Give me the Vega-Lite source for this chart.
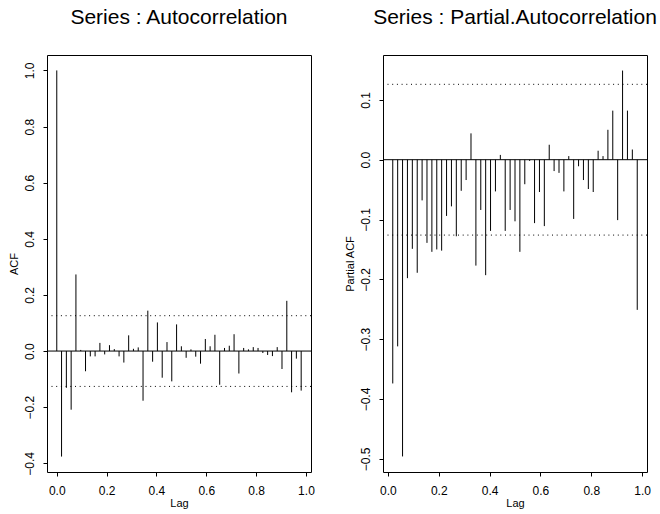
{
  "$schema": "https://vega.github.io/schema/vega-lite/v6.json",
  "background": "white",
  "padding": {"left": 7, "top": 6, "right": 0, "bottom": 0},
  "bounds": "flush",
  "spacing": 72,
  "config": {
    "font": "Liberation Sans",
    "view": {"stroke": "black", "strokeWidth": 1},
    "axis": {
      "grid": false, "domain": false, "ticks": true, "tickColor": "black", "tickSize": 4,
      "labelColor": "black", "labelFontSize": 12, "labelFont": "Liberation Sans",
      "titleFontSize": 11, "titleFontWeight": "normal", "titleColor": "black", "titleFont": "Liberation Sans"
    },
    "axisY": {"labelAngle": -90, "labelAlign": "center", "labelBaseline": "alphabetic", "labelPadding": 10, "titlePadding": 4},
    "axisX": {"labelPadding": 9, "titlePadding": 1},
    "title": {"fontSize": 21, "fontWeight": "normal", "color": "black", "font": "Liberation Sans", "baseline": "alphabetic", "offset": 27, "anchor": "middle"}
  },
  "datasets": {
    "acf": [
      {"lag": 0, "value": 1.0},
      {"lag": 0.0192, "value": -0.376},
      {"lag": 0.0385, "value": -0.131},
      {"lag": 0.0577, "value": -0.209},
      {"lag": 0.0769, "value": 0.273},
      {"lag": 0.0962, "value": 0.004},
      {"lag": 0.1154, "value": -0.072},
      {"lag": 0.1346, "value": -0.019},
      {"lag": 0.1538, "value": -0.019},
      {"lag": 0.1731, "value": 0.029},
      {"lag": 0.1923, "value": -0.012},
      {"lag": 0.2115, "value": 0.021},
      {"lag": 0.2308, "value": 0.007},
      {"lag": 0.25, "value": -0.019},
      {"lag": 0.2692, "value": -0.041},
      {"lag": 0.2885, "value": 0.056},
      {"lag": 0.3077, "value": 0.008},
      {"lag": 0.3269, "value": 0.013},
      {"lag": 0.3462, "value": -0.177},
      {"lag": 0.3654, "value": 0.144},
      {"lag": 0.3846, "value": -0.038},
      {"lag": 0.4038, "value": 0.102},
      {"lag": 0.4231, "value": -0.095},
      {"lag": 0.4423, "value": 0.032},
      {"lag": 0.4615, "value": -0.108},
      {"lag": 0.4808, "value": 0.095},
      {"lag": 0.5, "value": 0.017},
      {"lag": 0.5192, "value": -0.024},
      {"lag": 0.5385, "value": 0.006},
      {"lag": 0.5577, "value": -0.020},
      {"lag": 0.5769, "value": -0.045},
      {"lag": 0.5962, "value": 0.043},
      {"lag": 0.6154, "value": 0.017},
      {"lag": 0.6346, "value": 0.058},
      {"lag": 0.6538, "value": -0.120},
      {"lag": 0.6731, "value": 0.011},
      {"lag": 0.6923, "value": 0.019},
      {"lag": 0.7115, "value": 0.060},
      {"lag": 0.7308, "value": -0.080},
      {"lag": 0.75, "value": 0.011},
      {"lag": 0.7692, "value": 0.006},
      {"lag": 0.7885, "value": 0.014},
      {"lag": 0.8077, "value": 0.011},
      {"lag": 0.8269, "value": -0.007},
      {"lag": 0.8462, "value": -0.014},
      {"lag": 0.8654, "value": -0.018},
      {"lag": 0.8846, "value": 0.014},
      {"lag": 0.9038, "value": -0.064},
      {"lag": 0.9231, "value": 0.179},
      {"lag": 0.9423, "value": -0.147},
      {"lag": 0.9615, "value": -0.027},
      {"lag": 0.9808, "value": -0.141}
    ],
    "pacf": [
      {"lag": 0.0192, "value": -0.374},
      {"lag": 0.0385, "value": -0.312},
      {"lag": 0.0577, "value": -0.496},
      {"lag": 0.0769, "value": -0.198},
      {"lag": 0.0962, "value": -0.149},
      {"lag": 0.1154, "value": -0.189},
      {"lag": 0.1346, "value": -0.068},
      {"lag": 0.1538, "value": -0.139},
      {"lag": 0.1731, "value": -0.154},
      {"lag": 0.1923, "value": -0.150},
      {"lag": 0.2115, "value": -0.152},
      {"lag": 0.2308, "value": -0.094},
      {"lag": 0.25, "value": -0.078},
      {"lag": 0.2692, "value": -0.128},
      {"lag": 0.2885, "value": -0.052},
      {"lag": 0.3077, "value": -0.034},
      {"lag": 0.3269, "value": 0.044},
      {"lag": 0.3462, "value": -0.177},
      {"lag": 0.3654, "value": -0.084},
      {"lag": 0.3846, "value": -0.193},
      {"lag": 0.4038, "value": -0.119},
      {"lag": 0.4231, "value": -0.053},
      {"lag": 0.4423, "value": 0.008},
      {"lag": 0.4615, "value": -0.119},
      {"lag": 0.4808, "value": -0.084},
      {"lag": 0.5, "value": -0.103},
      {"lag": 0.5192, "value": -0.154},
      {"lag": 0.5385, "value": -0.041},
      {"lag": 0.5577, "value": -0.002},
      {"lag": 0.5769, "value": -0.106},
      {"lag": 0.5962, "value": -0.054},
      {"lag": 0.6154, "value": -0.111},
      {"lag": 0.6346, "value": 0.025},
      {"lag": 0.6538, "value": -0.019},
      {"lag": 0.6731, "value": -0.022},
      {"lag": 0.6923, "value": -0.053},
      {"lag": 0.7115, "value": 0.006},
      {"lag": 0.7308, "value": -0.099},
      {"lag": 0.75, "value": -0.011},
      {"lag": 0.7692, "value": -0.034},
      {"lag": 0.7885, "value": -0.049},
      {"lag": 0.8077, "value": -0.054},
      {"lag": 0.8269, "value": 0.015},
      {"lag": 0.8462, "value": 0.006},
      {"lag": 0.8654, "value": 0.050},
      {"lag": 0.8846, "value": 0.082},
      {"lag": 0.9038, "value": -0.101},
      {"lag": 0.9231, "value": 0.149},
      {"lag": 0.9423, "value": 0.082},
      {"lag": 0.9615, "value": 0.017},
      {"lag": 0.9808, "value": -0.251}
    ],
    "zero": [{"value": 0}],
    "ci": [{"value": 0.126}, {"value": -0.126}]
  },
  "hconcat": [
    {
      "width": 264,
      "height": 417,
      "title": "Series : Autocorrelation",
      "encoding": {
        "y": {
          "field": "value", "type": "quantitative",
          "scale": {"domain": [-0.431, 1.055], "nice": false, "zero": false},
          "axis": {"values": [-0.4, -0.2, 0, 0.2, 0.4, 0.6, 0.8, 1.0], "format": ".1f", "title": "ACF"}
        }
      },
      "layer": [
        {
          "data": {"name": "acf"},
          "mark": {"type": "rule", "color": "black", "strokeWidth": 1},
          "encoding": {
            "x": {
              "field": "lag", "type": "quantitative",
              "scale": {"domain": [-0.0392, 1.0202], "nice": false, "zero": false},
              "axis": {"values": [0, 0.2, 0.4, 0.6, 0.8, 1.0], "format": ".1f", "title": "Lag"}
            },
            "y2": {"datum": 0}
          }
        },
        {"data": {"name": "zero"}, "mark": {"type": "rule", "color": "black", "strokeWidth": 1}, "encoding": {}},
        {"data": {"name": "ci"}, "mark": {"type": "rule", "color": "black", "strokeWidth": 1, "strokeDash": [1, 3.7]}, "encoding": {}}
      ]
    },
    {
      "width": 264,
      "height": 417,
      "title": "Series : Partial.Autocorrelation",
      "encoding": {
        "y": {
          "field": "value", "type": "quantitative",
          "scale": {"domain": [-0.522, 0.175], "nice": false, "zero": false},
          "axis": {"values": [-0.5, -0.4, -0.3, -0.2, -0.1, 0, 0.1], "format": ".1f", "title": "Partial ACF"}
        }
      },
      "layer": [
        {
          "data": {"name": "pacf"},
          "mark": {"type": "rule", "color": "black", "strokeWidth": 1},
          "encoding": {
            "x": {
              "field": "lag", "type": "quantitative",
              "scale": {"domain": [-0.0192, 1.0192], "nice": false, "zero": false},
              "axis": {"values": [0, 0.2, 0.4, 0.6, 0.8, 1.0], "format": ".1f", "title": "Lag"}
            },
            "y2": {"datum": 0}
          }
        },
        {"data": {"name": "zero"}, "mark": {"type": "rule", "color": "black", "strokeWidth": 1}, "encoding": {}},
        {"data": {"name": "ci"}, "mark": {"type": "rule", "color": "black", "strokeWidth": 1, "strokeDash": [1, 3.7]}, "encoding": {}}
      ]
    }
  ]
}
